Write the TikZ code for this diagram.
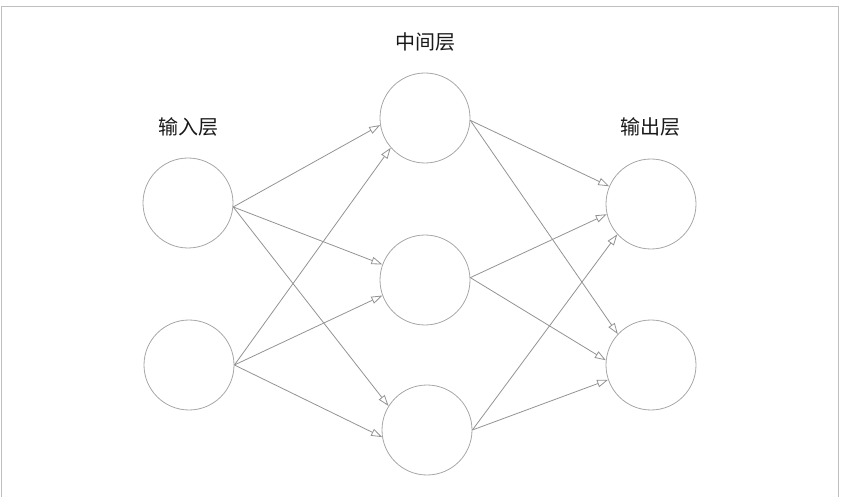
\documentclass[tikz,border=0pt]{standalone}
\usepackage{fontspec}
\newfontfamily\cjk{Noto Sans CJK SC}
\usetikzlibrary{arrows.meta}

\begin{document}
\begin{tikzpicture}[x=1pt, y=-1pt,
    neuron/.style={draw=gray!70, line width=0.8pt, circle, minimum size=90pt, inner sep=0pt},
    link/.style={draw=gray!85, line width=0.8pt, -{Triangle[open, length=11pt, width=7.5pt]}},
    layer/.style={font=\cjk\fontsize{20}{20}\selectfont, text=black!90}]
    \useasboundingbox (0,0) rectangle (844,497);
    \draw[gray!50, line width=1pt] (1,497) -- (1,7) -- (838,7) -- (838,497);

    % Layer titles
    \node[layer] (lblin) at (188,127) {输入层};
    \node[layer] (lblmid) at (425,42) {中间层};
    \node[layer] (lblout) at (650,127) {输出层};

    % Neurons
    \node[neuron] (in1) at (188,203) {};
    \node[neuron] (in2) at (189,365) {};
    \node[neuron] (mid1) at (425,118) {};
    \node[neuron] (mid2) at (425,280) {};
    \node[neuron] (mid3) at (427,430) {};
    \node[neuron] (out1) at (651,204) {};
    \node[neuron] (out2) at (651,365) {};

    % Input -> middle
    \draw[link] (in1.-5) -- (mid1.189);
    \draw[link] (in1.-5) -- (mid2.160);
    \draw[link] (in1.-5) -- (mid3.148);
    \draw[link] (in2.east) -- (mid1.221);
    \draw[link] (in2.east) -- (mid2.200);
    \draw[link] (in2.east) -- (mid3.189);

    % Middle -> output
    \draw[link] (mid1.-3) -- (out1.157);
    \draw[link] (mid1.-3) -- (out2.137);
    \draw[link] (mid2.3) -- (out1.193);
    \draw[link] (mid2.3) -- (out2.174);
    \draw[link] (mid3.east) -- (out1.222);
    \draw[link] (mid3.east) -- (out2.199);
\end{tikzpicture}
\end{document}
